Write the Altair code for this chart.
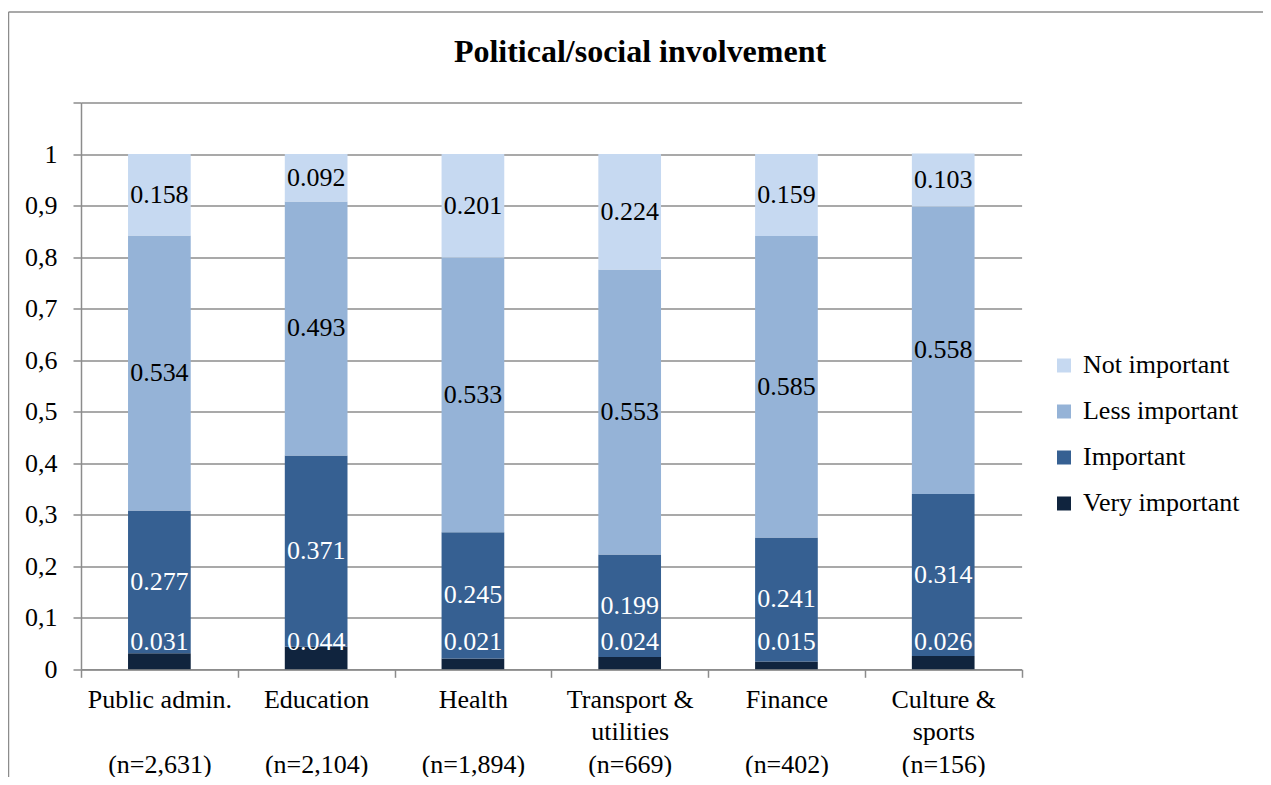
import altair as alt
import pandas as pd

# ---- data ----
BLANK = "\u200b"  # blank second line for one-line category names
cat_lines = [
    ["Public admin.", BLANK, "(n=2,631)"],
    ["Education", BLANK, "(n=2,104)"],
    ["Health", BLANK, "(n=1,894)"],
    ["Transport &", "utilities", "(n=669)"],
    ["Finance", BLANK, "(n=402)"],
    ["Culture &", "sports", "(n=156)"],
]
series = ["Very important", "Important", "Less important", "Not important"]
very_important = [0.031, 0.044, 0.021, 0.024, 0.015, 0.026]
important = [0.277, 0.371, 0.245, 0.199, 0.241, 0.314]
less_important = [0.534, 0.493, 0.533, 0.553, 0.585, 0.558]
not_important = [0.158, 0.092, 0.201, 0.224, 0.159, 0.103]
y_ticks = [0, 0.1, 0.2, 0.3, 0.4, 0.5, 0.6, 0.7, 0.8, 0.9, 1.0, 1.1]

legend_order = ["Not important", "Less important", "Important", "Very important"]
colors = ["#C6D9F1", "#95B3D7", "#366092", "#10243E"]

FONT = "'Liberation Serif', 'Times New Roman', 'DejaVu Serif', serif"
GRID = "#8C8C8C"

cat_keys = ["|".join(l) for l in cat_lines]
rows = []
for s_i, (s, vals) in enumerate(zip(series, [very_important, important, less_important, not_important])):
    for c_i, v in enumerate(vals):
        rows.append({"cat": cat_keys[c_i], "series": s, "value": v, "ord": s_i})
df = pd.DataFrame(rows)

base = alt.Chart(df).transform_stack(
    stack="value", groupby=["cat"], as_=["y0", "y1"], sort=[alt.SortField("ord", order="ascending")]
).transform_calculate(
    mid="(datum.y0 + datum.y1) / 2"
).transform_calculate(
    labpos="datum.ord == 0 ? max(datum.mid, 0.053) : datum.mid"
)

x_enc = alt.X(
    "cat:N",
    sort=cat_keys,
    scale=alt.Scale(paddingInner=0, paddingOuter=0),
    axis=alt.Axis(
        title=None,
        labelExpr="split(datum.label, '|')",
        labelAngle=0,
        labelFont=FONT,
        labelFontSize=26,
        labelColor="black",
        labelLineHeight=32.5,
        labelPadding=9,
        labelBaseline="top",
        tickBand="extent",
        tickSize=8,
        tickColor=GRID,
        tickWidth=1.5,
        domainColor=GRID,
        domainWidth=1.5,
        grid=False,
        labelLimit=400,
    ),
)

y_scale = alt.Scale(domain=[0, 1.1], nice=False)

bars = base.mark_bar(width=62.7).encode(
    x=x_enc,
    y=alt.Y(
        "y0:Q",
        scale=y_scale,
        axis=alt.Axis(
            title=None,
            values=y_ticks,
            labelExpr="datum.value > 1.05 ? '' : replace(format(datum.value, '.1~f'), '.', ',')",
            labelFont=FONT,
            labelFontSize=26,
            labelColor="black",
            labelPadding=16,
            tickSize=8,
            tickColor=GRID,
            tickWidth=1.5,
            domainColor=GRID,
            domainWidth=1.5,
            grid=True,
            gridColor=GRID,
            gridWidth=1.5,
        ),
    ),
    y2="y1:Q",
    color=alt.Color(
        "series:N",
        scale=alt.Scale(domain=legend_order, range=colors),
        legend=alt.Legend(
            title=None,
            orient="none",
            legendX=970,
            legendY=250,
            symbolType="square",
            symbolSize=196,
            symbolStrokeWidth=0,
            labelFont=FONT,
            labelFontSize=26,
            labelColor="black",
            labelOffset=6,
            rowPadding=20,
            padding=0,
            labelLimit=400,
        ),
    ),
)

labels = base.mark_text(font=FONT, fontSize=26, baseline="middle", align="center").encode(
    x=alt.X("cat:N", sort=cat_keys),
    y=alt.Y("labpos:Q", scale=y_scale),
    text=alt.Text("value:Q", format=".3f"),
    color=alt.condition("datum.ord <= 1", alt.value("white"), alt.value("black")),
)

one = pd.DataFrame({"t": ["Political/social involvement"]})
title = alt.Chart(one).mark_text(
    font=FONT, fontSize=32, fontWeight="bold", align="center", baseline="alphabetic"
).encode(x=alt.value(559), y=alt.value(-41), text="t:N")

frame_top = alt.Chart(one).mark_rule(color=GRID, strokeWidth=1.5).encode(
    x=alt.value(-72.5), x2=alt.value(1300), y=alt.value(-90.5)
)
frame_left = alt.Chart(one).mark_rule(color=GRID, strokeWidth=1.5).encode(
    x=alt.value(-72.5), y=alt.value(-90.5), y2=alt.value(800)
)

chart = alt.layer(frame_top, frame_left, bars, labels, title).properties(
    width=940.6,
    height=566.8,
    autosize=alt.AutoSizeParams(type="none"),
    padding={"left": 73, "top": 94.5, "right": 241, "bottom": 108},
).configure_view(stroke=None)

chart.save("out.html", embed_options={"renderer": "svg", "actions": False})
